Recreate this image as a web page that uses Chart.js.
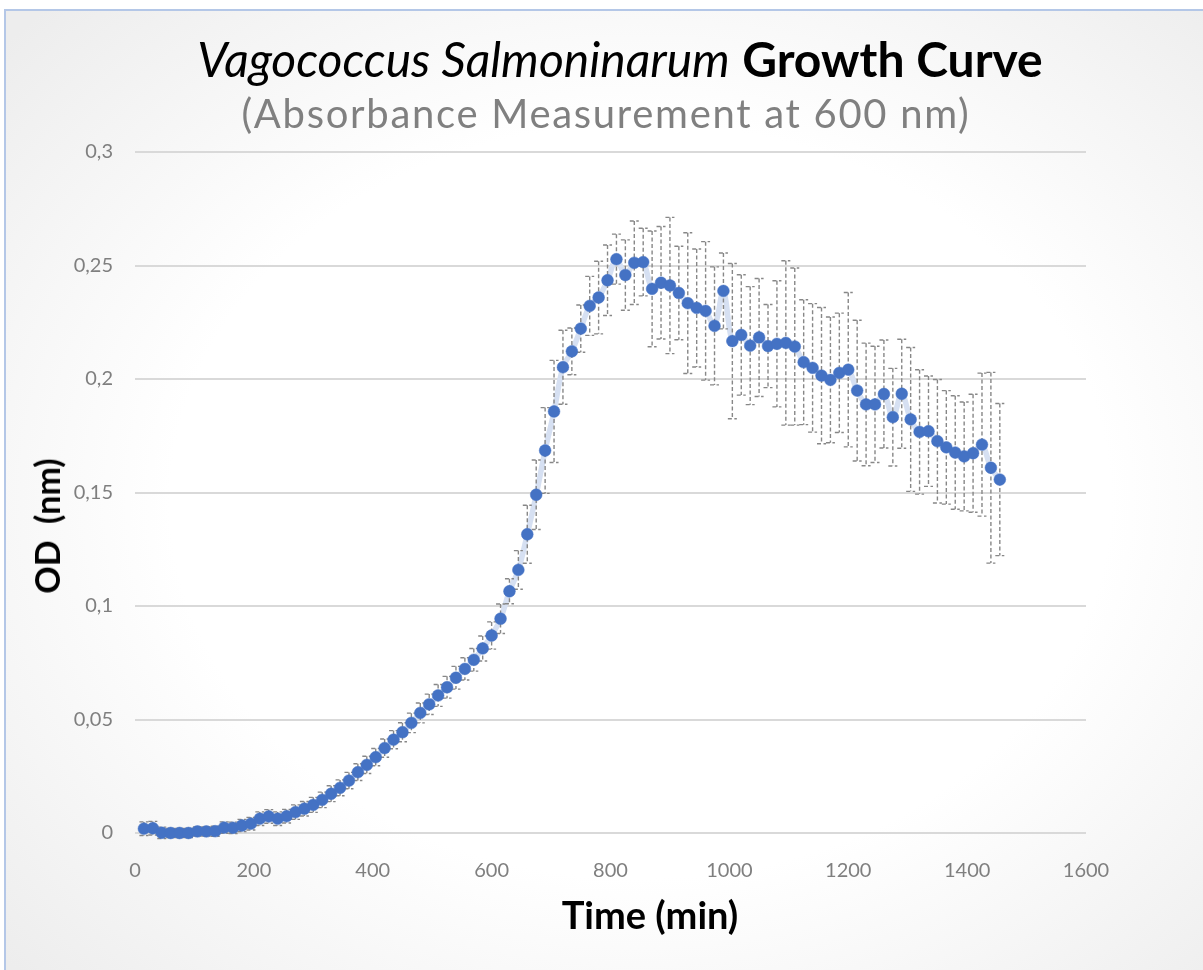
<!DOCTYPE html>
<html>
<head>
<meta charset="utf-8">
<title>Vagococcus Salmoninarum Growth Curve</title>
<script src="https://cdn.jsdelivr.net/npm/chart.js@4.4.1/dist/chart.umd.min.js"></script>
<style>
    html, body { margin: 0; padding: 0; background: #ffffff; }
    .page { position: relative; width: 1203px; height: 970px; overflow: hidden; font-family: Lato, 'Open Sans', sans-serif; }
    .frame {
        position: absolute; left: 4px; top: 9px; width: 1220px; height: 980px;
        border-top: 2px solid #b4c7e7; border-left: 2px solid #b4c7e7;
        background: radial-gradient(ellipse 70% 70% at 52% 50%, #ffffff 55%, #ededed 100%);
    }
    #chartCanvas { position: absolute; left: 0; top: 0; }
    .title { position: absolute; white-space: nowrap; transform: translateX(-50%); line-height: 1; }
    .main-title { left: 620px; top: 35px; font-size: 48px; color: #000; }
    .main-title i { font-weight: 400; }
    .main-title b { font-weight: 700; }
    .sub-title { left: 606px; top: 93px; font-size: 40px; letter-spacing: 1.7px; color: #808080; }
    .x-title { left: 650px; top: 895px; font-size: 38px; font-weight: 700; color: #000; }
    .y-title { left: 47px; top: 526px; font-size: 34px; font-weight: 700; color: #000;
               transform: translate(-50%, -50%) rotate(-90deg); white-space: pre; }
</style>
</head>
<body>
<div class="page">
    <div class="frame"></div>
    <canvas id="chartCanvas" width="1203" height="970"></canvas>
    <div class="title main-title"><i>Vagococcus Salmoninarum</i> <b>Growth Curve</b></div>
    <div class="title sub-title">(Absorbance Measurement at 600 nm)</div>
    <div class="title x-title">Time (min)</div>
    <div class="title y-title">OD  (nm)</div>
</div>
<script>
// Time points (min)
const times = [
    15, 30, 45, 60, 75, 90, 105, 120, 135, 150,
    165, 180, 195, 210, 225, 240, 255, 270, 285, 300,
    315, 330, 345, 360, 375, 390, 405, 420, 435, 450,
    465, 480, 495, 510, 525, 540, 555, 570, 585, 600,
    615, 630, 645, 660, 675, 690, 705, 720, 735, 750,
    765, 780, 795, 810, 825, 840, 855, 870, 885, 900,
    915, 930, 945, 960, 975, 990, 1005, 1020, 1035, 1050,
    1065, 1080, 1095, 1110, 1125, 1140, 1155, 1170, 1185, 1200,
    1215, 1230, 1245, 1260, 1275, 1290, 1305, 1320, 1335, 1350,
    1365, 1380, 1395, 1410, 1425, 1440, 1455
];

// Mean OD600
const odMean = [
    0.0019, 0.0021, 0.0001, 0, 0, 0, 0.0007, 0.0007, 0.0008, 0.0024,
    0.0023, 0.0033, 0.0041, 0.0063, 0.0073, 0.0063, 0.0074, 0.0092, 0.0107, 0.0124,
    0.0146, 0.0173, 0.0199, 0.0231, 0.0268, 0.0300, 0.0334, 0.0374, 0.0411, 0.0444,
    0.0485, 0.0529, 0.0567, 0.0606, 0.0642, 0.0684, 0.0723, 0.0763, 0.0813, 0.0870,
    0.0944, 0.1065, 0.1159, 0.1316, 0.1490, 0.1685, 0.1857, 0.2052, 0.2122, 0.2222,
    0.2322, 0.2359, 0.2435, 0.2528, 0.2458, 0.2512, 0.2515, 0.2397, 0.2424, 0.2412,
    0.2379, 0.2334, 0.2313, 0.2300, 0.2234, 0.2388, 0.2167, 0.2194, 0.2147, 0.2183,
    0.2145, 0.2155, 0.2159, 0.2143, 0.2074, 0.2049, 0.2015, 0.1996, 0.2027, 0.2041,
    0.1949, 0.1888, 0.1888, 0.1934, 0.1832, 0.1935, 0.1822, 0.1767, 0.1770, 0.1726,
    0.1699, 0.1676, 0.1659, 0.1673, 0.1711, 0.1609, 0.1557
];

// Error (+/-) for each point
const odError = [
    0.003, 0.003, 0.0025, 0.002, 0.002, 0.002, 0.002, 0.002, 0.0022, 0.0025,
    0.0025, 0.0027, 0.0028, 0.003, 0.003, 0.003, 0.003, 0.0032, 0.0032, 0.0033,
    0.0034, 0.0035, 0.0035, 0.0036, 0.0037, 0.0038, 0.0038, 0.004, 0.004, 0.0042,
    0.0043, 0.0044, 0.0045, 0.0048, 0.0048, 0.005, 0.0049, 0.005, 0.0055, 0.006,
    0.0065, 0.0055, 0.0085, 0.0128, 0.0153, 0.0189, 0.0225, 0.0163, 0.0103, 0.0104,
    0.013, 0.016, 0.0155, 0.011, 0.0155, 0.0184, 0.0149, 0.0255, 0.0248, 0.030,
    0.0206, 0.031, 0.026, 0.0305, 0.026, 0.0167, 0.0342, 0.0265, 0.026, 0.026,
    0.0183, 0.0278, 0.0362, 0.0346, 0.0275, 0.0283, 0.030, 0.0277, 0.0263, 0.034,
    0.031, 0.027, 0.0256, 0.0238, 0.0215, 0.024, 0.0317, 0.0274, 0.0243, 0.0272,
    0.025, 0.025, 0.024, 0.026, 0.0315, 0.042, 0.0335
];

// Axis ticks
const xTicks = [0, 200, 400, 600, 800, 1000, 1200, 1400, 1600];
const xTickLabels = ['0', '200', '400', '600', '800', '1000', '1200', '1400', '1600'];
const yTicks = [0, 0.05, 0.1, 0.15, 0.2, 0.25, 0.3];
const yTickLabels = ['0', '0,05', '0,1', '0,15', '0,2', '0,25', '0,3'];

const points = times.map((t, i) => ({ x: t, y: odMean[i] }));

// Dashed error bars, drawn just before the markers
const errorBars = {
    id: 'errorBars',
    beforeDatasetDraw(chart, args) {
        if (args.index !== 0) return;
        const ctx = chart.ctx;
        const xs = chart.scales.x;
        const ys = chart.scales.y;
        ctx.save();
        ctx.strokeStyle = '#878787';
        ctx.lineWidth = 1.4;
        ctx.setLineDash([4, 2.5]);
        times.forEach((t, i) => {
            const px = xs.getPixelForValue(t);
            const top = ys.getPixelForValue(odMean[i] + odError[i]);
            const bottom = ys.getPixelForValue(odMean[i] - odError[i]);
            ctx.beginPath();
            ctx.moveTo(px, top);
            ctx.lineTo(px, bottom);
            ctx.moveTo(px - 4.5, top);
            ctx.lineTo(px + 4.5, top);
            ctx.moveTo(px - 4.5, bottom);
            ctx.lineTo(px + 4.5, bottom);
            ctx.stroke();
        });
        ctx.restore();
    }
};

const tickFont = { family: 'Lato', size: 20 };

function labelFor(ticks, labels, value) {
    return labels[ticks.findIndex(v => Math.abs(v - value) < 1e-9)];
}

new Chart(document.getElementById('chartCanvas').getContext('2d'), {
    type: 'scatter',
    data: {
        datasets: [
            {
                data: points,
                showLine: false,
                pointRadius: 5.9,
                pointBackgroundColor: '#4472c4',
                pointBorderColor: '#4472c4',
                pointBorderWidth: 0.5,
                clip: false
            },
            {
                data: points,
                showLine: true,
                borderColor: '#d6e0f2',
                borderWidth: 5.5,
                tension: 0.35,
                pointRadius: 0,
                clip: false
            }
        ]
    },
    options: {
        responsive: false,
        animation: false,
        devicePixelRatio: 1,
        layout: { padding: { left: 0, right: 117, top: 152, bottom: 0 } },
        plugins: {
            legend: { display: false },
            title: { display: false },
            tooltip: { enabled: false }
        },
        scales: {
            x: {
                type: 'linear',
                min: 0,
                max: 1600,
                afterBuildTicks: scale => { scale.ticks = xTicks.map(v => ({ value: v })); },
                afterFit: scale => { scale.height = 137; },
                grid: { display: false },
                border: { display: false },
                ticks: {
                    color: '#7f7f7f',
                    font: tickFont,
                    padding: 18,
                    maxRotation: 0,
                    callback: value => labelFor(xTicks, xTickLabels, value)
                }
            },
            y: {
                type: 'linear',
                min: 0,
                max: 0.3,
                afterBuildTicks: scale => { scale.ticks = yTicks.map(v => ({ value: v })); },
                afterFit: scale => { scale.width = 135; },
                grid: { color: '#d9d9d9', lineWidth: 2, drawTicks: false },
                border: { display: false },
                ticks: {
                    color: '#7f7f7f',
                    font: tickFont,
                    padding: 22,
                    callback: value => labelFor(yTicks, yTickLabels, value)
                }
            }
        }
    },
    plugins: [errorBars]
});
</script>
</body>
</html>
